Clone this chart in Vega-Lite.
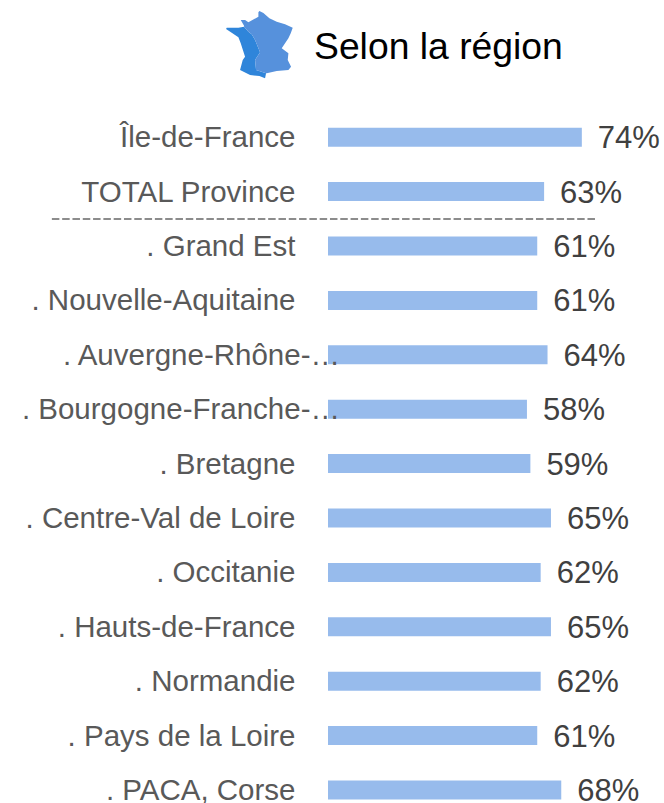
{
  "$schema": "https://vega.github.io/schema/vega-lite/v6.json",
  "width": 329.3,
  "height": 693,
  "autosize": {"type": "none"},
  "padding": {"left": 328, "top": 110, "right": 6.7, "bottom": 0},
  "background": "white",
  "title": {"text": "Selon la région", "anchor": "start", "frame": "group", "dx": -14, "offset": -85, "baseline": "alphabetic", "font": "Liberation Sans", "fontSize": 37.3, "fontWeight": "normal", "color": "#000000"},
  "config": {"view": {"stroke": null}},
  "data": {"values": [
    {"region": "Île-de-France", "pct": 0.74},
    {"region": "TOTAL Province", "pct": 0.63},
    {"region": ". Grand Est", "pct": 0.61},
    {"region": ". Nouvelle-Aquitaine", "pct": 0.61},
    {"region": ". Auvergne-Rhône-…", "pct": 0.64, "short": true},
    {"region": ". Bourgogne-Franche-…", "pct": 0.58, "short": true},
    {"region": ". Bretagne", "pct": 0.59},
    {"region": ". Centre-Val de Loire", "pct": 0.65},
    {"region": ". Occitanie", "pct": 0.62},
    {"region": ". Hauts-de-France", "pct": 0.65},
    {"region": ". Normandie", "pct": 0.62},
    {"region": ". Pays de la Loire", "pct": 0.61},
    {"region": ". PACA, Corse", "pct": 0.68}
  ]},
  "encoding": {
    "y": {
      "field": "region", "type": "nominal", "sort": null, "title": null,
      "scale": {"paddingInner": 0.65, "paddingOuter": 0.325, "range": [0, 707.2]},
      "axis": {"domain": false, "ticks": false, "labelPadding": 33, "labelOffset": 1, "labelFont": "Liberation Sans", "labelFontSize": 29.5, "labelColor": "#595959", "labelLimit": 400, "labelExpr": "indexof(datum.label, '…') >= 0 ? '' : datum.label"}
    }
  },
  "layer": [
    {
      "mark": {"type": "bar", "color": "#97BBEC"},
      "encoding": {
        "x": {"field": "pct", "type": "quantitative", "scale": {"domain": [0, 0.96], "nice": false, "zero": true}, "axis": null}
      }
    },
    {
      "transform": [{"filter": "datum.short"}],
      "mark": {"type": "text", "align": "right", "baseline": "middle", "dx": 12, "dy": 1, "font": "Liberation Sans", "fontSize": 29.5, "color": "#595959"},
      "encoding": {"x": {"datum": 0}, "text": {"field": "region"}}
    },
    {
      "mark": {"type": "text", "align": "left", "baseline": "middle", "dx": 16, "dy": 2, "font": "Liberation Sans", "fontSize": 31, "color": "#404040"},
      "encoding": {
        "x": {"field": "pct", "type": "quantitative"},
        "text": {"field": "pct", "type": "quantitative", "format": ".0%"}
      }
    },
    {
      "data": {"values": [{"debut": -0.805, "fin": 0.784, "rang": ". Grand Est"}]},
      "mark": {"type": "rule", "color": "#8C8C8C", "strokeWidth": 2, "strokeDash": [7.5, 2.8], "yOffset": -27},
      "encoding": {
        "x": {"field": "debut", "type": "quantitative"},
        "x2": {"field": "fin"},
        "y": {"field": "rang", "type": "nominal", "sort": null}
      }
    },
    {
      "data": {"values": [{"icone": "France"}]},
      "mark": {"type": "point", "filled": true, "opacity": 1, "strokeWidth": 0, "color": "#2F85DA", "size": 4444, "yOffset": -92.5,
        "shape": "M-1,-.47L-.98,-.51L-.63,-.51L-.46,-.54L-.33,-.39L-.23,-.31L-.13,-.14L.02,.23L-.13,.46L-.1,.76L.2,.86L.17,1.01L0,.94L-.28,.91L-.58,.76L-.5,.46L-.43,.36L-.56,-.04L-.63,-.22Z"},
      "encoding": {"x": {"datum": -0.2}, "y": {"datum": "Île-de-France"}}
    },
    {
      "data": {"values": [{"icone": "France"}]},
      "mark": {"type": "point", "filled": true, "opacity": 1, "strokeWidth": 0, "color": "#5691DC", "size": 4444, "yOffset": -92.5,
        "shape": "M0,-1.01L.12,-.95L.3,-.79L.52,-.69L.77,-.61L1,-.51L.94,-.34L.87,-.19L.77,-.04L.67,.11L.87,.26L.85,.46L.95,.66L.87,.76L.52,.79L.22,.86L.2,.86L-.1,.76L-.13,.46L.02,.23L-.13,-.14L-.23,-.31L-.33,-.39L-.46,-.54L-.46,-.57L-.56,-.74L-.43,-.74L-.33,-.67L-.03,-.84L-.03,-.97Z"},
      "encoding": {"x": {"datum": -0.2}, "y": {"datum": "Île-de-France"}}
    }
  ]
}
